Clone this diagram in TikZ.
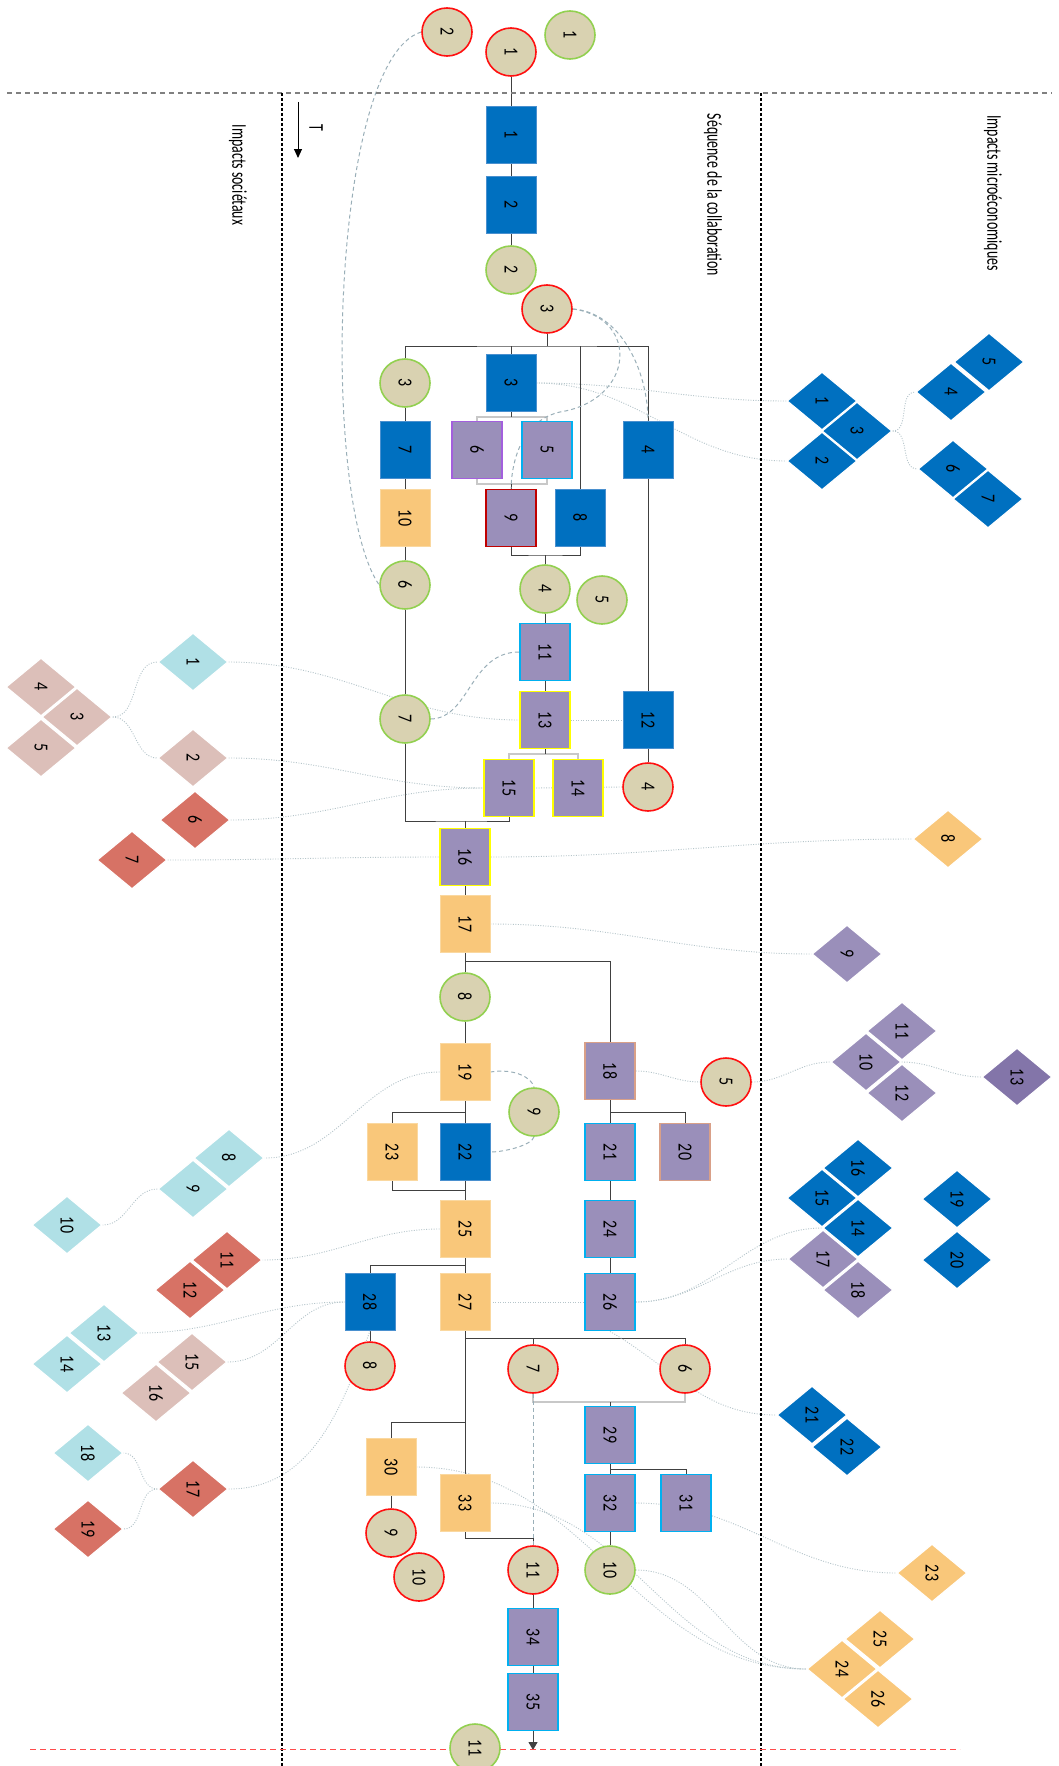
\documentclass[tikz,border=0pt]{standalone}
\usepackage{fontspec}
\setmainfont{Carlito}
\usetikzlibrary{shapes.geometric,arrows.meta,backgrounds}
\definecolor{blu}{HTML}{0070C0}
\definecolor{blub}{HTML}{4A90CF}
\definecolor{pur}{HTML}{9A8FBA}
\definecolor{purd}{HTML}{8375A9}
\definecolor{org}{HTML}{F9C77A}
\definecolor{orgb}{HTML}{FAD8A0}
\definecolor{tanf}{HTML}{D9D2B1}
\definecolor{grn}{HTML}{92D050}
\definecolor{redb}{HTML}{FF1010}
\definecolor{cyb}{HTML}{00B0F0}
\definecolor{yel}{HTML}{FFFF00}
\definecolor{salm}{HTML}{D9A088}
\definecolor{dred}{HTML}{C00000}
\definecolor{vio}{HTML}{A35FDD}
\definecolor{cyd}{HTML}{B0E0E6}
\definecolor{pkd}{HTML}{DCBFB9}
\definecolor{rdd}{HTML}{D77265}
\definecolor{conc}{HTML}{404040}
\definecolor{lconc}{HTML}{C8C8C8}
\definecolor{dshc}{HTML}{9AAFB8}
\definecolor{dotc}{HTML}{B5C5CA}
\newcommand\rtx[1]{\rotatebox{-90}{\scalebox{0.8}[1]{#1}}}
\newcommand\rtl[1]{\rotatebox{-90}{\scalebox{0.66}[1]{#1}}}
\begin{document}
\begin{tikzpicture}[x=1pt,y=-1pt,
  num/.style={font=\fontsize{20}{20}\selectfont, text=black},
  circ/.style={num, shape=ellipse, minimum width=50pt, minimum height=48pt, inner sep=0pt, fill=tanf, line width=1.6pt},
  cR/.style={circ, draw=redb},
  cG/.style={circ, draw=grn},
  box/.style={num, shape=rectangle, minimum width=50pt, minimum height=57pt, inner sep=0pt},
  bB/.style={box, fill=blu, draw=blub, line width=0.6pt},
  bO/.style={box, fill=org, draw=orgb, line width=0.6pt},
  bP/.style={box, fill=pur, line width=1.8pt},
  bPc/.style={bP, draw=cyb},
  bPy/.style={bP, draw=yel},
  bPs/.style={bP, draw=salm},
  dia/.style={num, shape=diamond, minimum width=70pt, minimum height=58pt, inner sep=0pt, draw=white, line width=1.2pt},
  dB/.style={dia, fill=blu},
  dP/.style={dia, fill=pur},
  dO/.style={dia, fill=org},
  dC/.style={dia, fill=cyd},
  dK/.style={dia, fill=pkd},
  dR/.style={dia, fill=rdd},
  con/.style={draw=conc, line width=1pt},
  lcon/.style={draw=lconc, line width=1.5pt},
  dsh/.style={draw=dshc, line width=1pt, dash pattern=on 4pt off 3pt},
  dot/.style={draw=dotc, line width=0.9pt, dash pattern=on 1pt off 1.5pt},
  fr/.style={draw=black, line width=1.3pt, dash pattern=on 3pt off 2pt},
  lab/.style={font=\fontsize{21}{21}\selectfont}
]
\useasboundingbox (0,0) rectangle (1059,1766);
% frame
\coordinate (hl1) at (7,93); \coordinate (hl2) at (1052,93);
\draw[draw=gray, line width=1.5pt, dash pattern=on 5pt off 4pt] (hl1) -- (hl2);
\coordinate (vl1) at (282,93); \coordinate (vl2) at (282,1766);
\coordinate (vr1) at (761,93); \coordinate (vr2) at (761,1766);
\draw[fr] (vl1) -- (vl2);
\draw[fr] (vr1) -- (vr2);
\coordinate (rl1) at (30,1749); \coordinate (rl2) at (960,1749);
\draw[draw=red!70, line width=1pt, dash pattern=on 6pt off 4pt] (rl1) -- (rl2);
% titles
\node[lab] (tSoc) at (238,175) {\rtl{Impacts sociétaux}};
\node[lab] (tSeq) at (713,195) {\rtl{Séquence de la collaboration}};
\node[lab] (tMic) at (993,193) {\rtl{Impacts microéconomiques}};
\node[lab] (tT) at (316,128) {\rtl{T}};
\coordinate (aT1) at (298,102); \coordinate (aT2) at (298,158);
\draw[line width=1pt, -{Triangle[width=8pt,length=9pt]}] (aT1) -- (aT2);

% circles
\node[cR] (cR2) at (447,32) {\rtx{2}};
\node[cR] (cR1) at (511,52) {\rtx{1}};
\node[cG] (cG1) at (570,35) {\rtx{1}};
\node[cG] (cG2) at (511,270) {\rtx{2}};
\node[cR] (cR3) at (547,309) {\rtx{3}};
\node[cG] (cG3) at (405,383) {\rtx{3}};
\node[cG] (cG6) at (405,585) {\rtx{6}};
\node[cG] (cG4) at (545,589) {\rtx{4}};
\node[cG] (cG5) at (602,600) {\rtx{5}};
\node[cG] (cG7) at (405,719) {\rtx{7}};
\node[cR] (cR4) at (648,787) {\rtx{4}};
\node[cG] (cG8) at (465,997) {\rtx{8}};
\node[cR] (cR5) at (726,1082) {\rtx{5}};
\node[cG] (cG9) at (534,1112) {\rtx{9}};
\node[cR] (cR8) at (370,1366) {\rtx{8}};
\node[cR] (cR7) at (533,1369) {\rtx{7}};
\node[cR] (cR6) at (685,1369) {\rtx{6}};
\node[cR] (cR9) at (391,1533) {\rtx{9}};
\node[cR] (cR10) at (419,1577) {\rtx{10}};
\node[cR] (cR11) at (533,1570) {\rtx{11}};
\node[cG] (cG10) at (610,1570) {\rtx{10}};
\node[cG] (cG11) at (475,1748) {\rtx{11}};

% boxes
\node[bB] (b1) at (511,135) {\rtx{1}};
\node[bB] (b2) at (511,205) {\rtx{2}};
\node[bB] (b3) at (511,383) {\rtx{3}};
\node[bB] (b4) at (648,450) {\rtx{4}};
\node[bPc] (b5) at (547,450) {\rtx{5}};
\node[bP,draw=vio] (b6) at (477,450) {\rtx{6}};
\node[bB] (b7) at (405,450) {\rtx{7}};
\node[bB] (b8) at (580,518) {\rtx{8}};
\node[bP,draw=dred] (b9) at (511,518) {\rtx{9}};
\node[bO] (b10) at (405,518) {\rtx{10}};
\node[bPc] (b11) at (545,652) {\rtx{11}};
\node[bB] (b12) at (648,720) {\rtx{12}};
\node[bPy] (b13) at (545,720) {\rtx{13}};
\node[bPy] (b14) at (578,788) {\rtx{14}};
\node[bPy] (b15) at (509,788) {\rtx{15}};
\node[bPy] (b16) at (465,857) {\rtx{16}};
\node[bO] (b17) at (465,924) {\rtx{17}};
\node[bPs] (b18) at (610,1071) {\rtx{18}};
\node[bO] (b19) at (465,1072) {\rtx{19}};
\node[bPs] (b20) at (685,1152) {\rtx{20}};
\node[bPc] (b21) at (610,1152) {\rtx{21}};
\node[bB] (b22) at (465,1152) {\rtx{22}};
\node[bO] (b23) at (392,1152) {\rtx{23}};
\node[bPc] (b24) at (610,1229) {\rtx{24}};
\node[bO] (b25) at (465,1229) {\rtx{25}};
\node[bPc] (b26) at (610,1302) {\rtx{26}};
\node[bO] (b27) at (465,1302) {\rtx{27}};
\node[bB] (b28) at (370,1302) {\rtx{28}};
\node[bPc] (b29) at (610,1435) {\rtx{29}};
\node[bO] (b30) at (391,1467) {\rtx{30}};
\node[bPc] (b31) at (686,1503) {\rtx{31}};
\node[bPc] (b32) at (610,1503) {\rtx{32}};
\node[bO] (b33) at (465,1503) {\rtx{33}};
\node[bPc] (b34) at (533,1637) {\rtx{34}};
\node[bPc] (b35) at (533,1702) {\rtx{35}};

% micro diamonds
\node[dB] (mB1) at (822,401) {\rtx{1}};
\node[dB] (mB3) at (857,431) {\rtx{3}};
\node[dB] (mB2) at (822,461) {\rtx{2}};
\node[dB] (mB4) at (951,392) {\rtx{4}};
\node[dB] (mB5) at (989,362) {\rtx{5}};
\node[dB] (mB6) at (953,469) {\rtx{6}};
\node[dB] (mB7) at (988,499) {\rtx{7}};
\node[dO] (mO8) at (948,839) {\rtx{8}};
\node[dP] (mP9) at (847,954) {\rtx{9}};
\node[dP] (mP11) at (902,1031) {\rtx{11}};
\node[dP] (mP10) at (866,1062) {\rtx{10}};
\node[dP] (mP12) at (902,1093) {\rtx{12}};
\node[dia, fill=purd] (mP13) at (1017,1077) {\rtx{13}};
\node[dB] (mB16) at (858,1168) {\rtx{16}};
\node[dB] (mB15) at (822,1198) {\rtx{15}};
\node[dB] (mB14) at (858,1228) {\rtx{14}};
\node[dP] (mP17) at (823,1259) {\rtx{17}};
\node[dP] (mP18) at (858,1290) {\rtx{18}};
\node[dB] (mB19) at (957,1199) {\rtx{19}};
\node[dB] (mB20) at (957,1260) {\rtx{20}};
\node[dB] (mB21) at (812,1415) {\rtx{21}};
\node[dB] (mB22) at (847,1447) {\rtx{22}};
\node[dO] (mO23) at (932,1573) {\rtx{23}};
\node[dO] (mO25) at (880,1639) {\rtx{25}};
\node[dO] (mO24) at (842,1669) {\rtx{24}};
\node[dO] (mO26) at (878,1699) {\rtx{26}};

% societal diamonds
\node[dC] (sC1) at (193,662) {\rtx{1}};
\node[dK] (sK3) at (77,717) {\rtx{3}};
\node[dK] (sK4) at (41,687) {\rtx{4}};
\node[dK] (sK5) at (41,748) {\rtx{5}};
\node[dK] (sK2) at (193,758) {\rtx{2}};
\node[dR] (sR6) at (195,820) {\rtx{6}};
\node[dR] (sR7) at (132,860) {\rtx{7}};
\node[dC] (sC8) at (229,1158) {\rtx{8}};
\node[dC] (sC9) at (193,1189) {\rtx{9}};
\node[dC] (sC10) at (67,1225) {\rtx{10}};
\node[dR] (sR11) at (227,1260) {\rtx{11}};
\node[dR] (sR12) at (190,1290) {\rtx{12}};
\node[dC] (sC13) at (104,1333) {\rtx{13}};
\node[dC] (sC14) at (67,1364) {\rtx{14}};
\node[dK] (sK15) at (192,1362) {\rtx{15}};
\node[dK] (sK16) at (156,1393) {\rtx{16}};
\node[dC] (sC18) at (88,1453) {\rtx{18}};
\node[dR] (sR17) at (193,1489) {\rtx{17}};
\node[dR] (sR19) at (88,1529) {\rtx{19}};

\begin{pgfonlayer}{background}
% solid connectors
\draw[con] (cR1) -- (b1) -- (b2) -- (cG2);
\coordinate (bus1) at (547,346);
\draw[con] (cR3) -- (bus1);
\draw[con] (cG3) |- (bus1) -| (b4);
\draw[con] (b3) -- (b3 |- bus1);
\draw[con] (b8) -- (b8 |- bus1);
\draw[con] (cG3) -- (b7) -- (b10) -- (cG6) -- (cG7);
\coordinate (bus2) at (511,417);
\draw[lcon] (b6) |- (bus2) -| (b5);
\draw[con] (b3) -- (bus2);
\coordinate (bus3) at (511,484);
\draw[lcon] (b6) |- (bus3) -| (b5);
\draw[con] (bus3) -- (b9);
\coordinate (bus4) at (545,555);
\draw[con] (b9) |- (bus4) -| (b8);
\draw[con] (bus4) -- (cG4) -- (b11) -- (b13);
\coordinate (bus5) at (545,754);
\draw[lcon] (b15) |- (bus5) -| (b14);
\draw[con] (b13) -- (bus5);
\draw[con] (b4) -- (b12) -- (cR4);
\coordinate (bus6) at (465,821);
\draw[con] (cG7) |- (bus6) -| (b15);
\draw[con] (bus6) -- (b16) -- (b17) -- (cG8) -- (b19);
\coordinate (bus7) at (465,961);
\draw[con] (bus7) -| (b18);
\coordinate (bus8) at (465,1112);
\draw[con] (b19) -- (b22);
\draw[con] (bus8) -| (b23);
\coordinate (bus9) at (610,1112);
\draw[con] (b18) -- (b21) -- (b24) -- (b26);
\draw[con] (bus9) -| (b20);
\coordinate (bus10) at (465,1190);
\draw[con] (b23) |- (bus10);
\draw[con] (b22) -- (b25) -- (b27) -- (b33);
\coordinate (bus11) at (465,1265);
\draw[con] (bus11) -| (b28);
\draw[con] (b28) -- (cR8);
\coordinate (bus12) at (465,1338);
\draw[con] (bus12) -| (cR6);
\draw[con] (cR7) -- (cR7 |- bus12);
\coordinate (bus13) at (465,1422);
\draw[con] (bus13) -| (b30);
\draw[con] (b30) -- (cR9);
\coordinate (bus14) at (610,1402);
\draw[lcon] (cR7.south) |- (bus14) -| (cR6.south);
\draw[con] (bus14) -- (b29) -- (b32) -- (cG10);
\coordinate (bus15) at (610,1469);
\draw[con] (bus15) -| (b31);
\coordinate (bus16) at (533,1538);
\draw[con] (b33) |- (bus16);
\draw[con] (bus16) -- (cR11) -- (b34) -- (b35);
\coordinate (arrEnd) at (533,1750);
\draw[con, -{Triangle[width=9pt,length=8pt]}] (b35.south) -- (arrEnd);

% dashed connectors
\draw[dsh] (cR2.west) .. controls (330,60) and (320,500) .. (cG6.west);
\draw[dsh] (cR3.east) .. controls (620,312) and (648,370) .. (b4.north);
\draw[dsh] (cR3.east) .. controls (640,318) and (635,400) .. (560,412) .. controls (525,420) and (512,455) .. (b9.north);
\draw[dsh] (cG7.east) .. controls (470,718) and (470,652) .. (b11.west);
\draw[dsh] (b19.east) .. controls (515,1068) and (532,1078) .. (cG9.north);
\draw[dsh] (cG9.south) .. controls (532,1145) and (505,1152) .. (b22.east);
\draw[dsh] (cR7.south) -- (cR11.north);

% dotted connectors
\draw[dot] (b3.east) to[out=0,in=180] (mB1.west);
\draw[dot] (b3.east) to[out=0,in=180] (mB2.west);
\draw[dot] (mB3.east) to[out=0,in=180] (mB4.west);
\draw[dot] (mB3.east) to[out=0,in=180] (mB6.west);
\draw[dot] (sK3.east) to[out=0,in=180] (sC1.west);
\draw[dot] (sK3.east) to[out=0,in=180] (sK2.west);
\draw[dot] (sC1.east) to[out=0,in=180] (b13.west);
\draw[dot] (sK2.east) to[out=0,in=180] (b15.west);
\draw[dot] (sR6.east) to[out=0,in=180] (b15.west);
\draw[dot] (b13.east) -- (b12.west);
\draw[dot] (cR4.west) -- (b15.east);
\draw[dot] (sR7.east) to[out=0,in=180] (b16.west);
\draw[dot] (b16.east) to[out=0,in=180] (mO8.west);
\draw[dot] (b17.east) to[out=0,in=180] (mP9.west);
\draw[dot] (b18.east) to[out=0,in=180] (cR5.west);
\draw[dot] (cR5.east) to[out=0,in=180] (mP10.west);
\draw[dot] (mP10.east) to[out=0,in=180] (mP13.west);
\draw[dot] (b19.west) to[out=180,in=0] (sC8.east);
\draw[dot] (sC9.west) to[out=180,in=0] (sC10.east);
\draw[dot] (b25.west) to[out=180,in=0] (sR11.east);
\draw[dot] (b26.east) to[out=0,in=180] (mB14.west);
\draw[dot] (b26.east) to[out=0,in=180] (mP17.west);
\draw[dot] (b26.south) to[out=-30,in=180] (mB21.west);
\draw[dot] (b27.east) -- (b26.west);
\draw[dot] (sC13.east) to[out=0,in=180] (b28.west);
\draw[dot] (sK15.east) to[out=0,in=180] (b28.west);
\draw[dot] (sR17.east) to[out=0,in=-110] (b28.south);
\draw[dot] (sR17.west) to[out=180,in=0] (sC18.east);
\draw[dot] (sR17.west) to[out=180,in=0] (sR19.east);
\draw[dot] (b30.east) to[out=0,in=180] (mO24.west);
\draw[dot] (b33.east) to[out=0,in=180] (mO24.west);
\draw[dot] (b32.east) to[out=0,in=180] (mO23.west);
\draw[dot] (cG10.east) to[out=0,in=180] (mO24.west);
\end{pgfonlayer}
\end{tikzpicture}
\end{document}
